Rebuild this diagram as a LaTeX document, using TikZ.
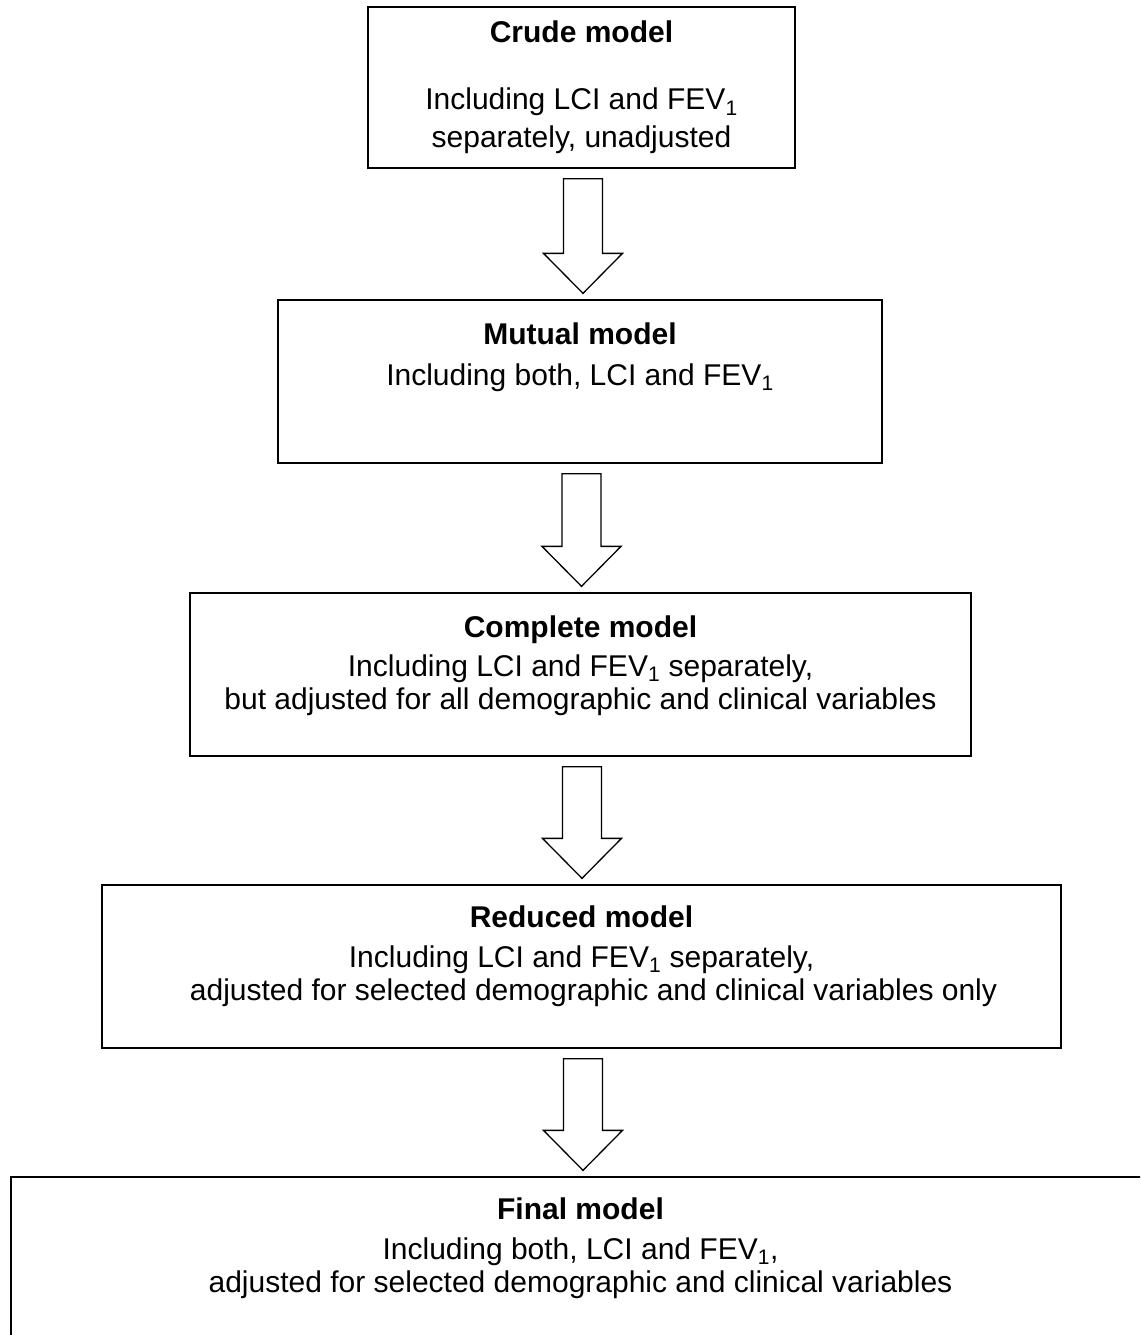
\documentclass[tikz,border=0pt]{standalone}
\usepackage{fontspec}
\setmainfont{Liberation Sans}
\usetikzlibrary{calc}
\tikzset{
  modelbox/.style={draw=black, line width=1.3pt, rectangle, inner sep=0pt, fill=none},
  ttl/.style={anchor=base, inner sep=0pt, font=\fontsize{30}{36}\selectfont\bfseries},
  txt/.style={anchor=base, inner sep=0pt, font=\fontsize{30}{36}\selectfont},
  arrowbox/.style={draw=black, line width=1.3pt, fill=white, line join=miter}
}
\newcommand\blockarrow[2]{%
  \draw[arrowbox] let \p1=($(#1.south)+(1.5,10)$), \p2=($(#2.north)+(0,-6)$) in
    (\x1-19.5pt,\y1) -- (\x1-19.5pt,\y2+40pt) -- (\x1-39.5pt,\y2+40pt) -- (\x1,\y2)
    -- (\x1+39.5pt,\y2+40pt) -- (\x1+19.5pt,\y2+40pt) -- (\x1+19.5pt,\y1) -- cycle;}
\begin{document}
\begin{tikzpicture}[x=1pt,y=-1pt]
\useasboundingbox (0,0) rectangle (1140,1335);
\fill[white] (0,0) rectangle (1140,1335);
\clip (0,0) rectangle (1140,1335);

\node[modelbox, minimum width=427pt, minimum height=161pt] (b1) at (581.5,87.5) {};
\node[modelbox, minimum width=604pt, minimum height=163pt] (b2) at (580,381.5) {};
\node[modelbox, minimum width=781pt, minimum height=163pt] (b3) at (580.5,674.5) {};
\node[modelbox, minimum width=959pt, minimum height=163pt] (b4) at (581.5,966.5) {};
\node[modelbox, minimum width=1139pt, minimum height=168pt] (b5) at (580.5,1261) {};

\node[ttl] (t1) at (581.5,43) {Crude model};
\node[txt] (l1a) at (581.5,110) {Including LCI and FEV\textsubscript{1}};
\node[txt] (l1b) at (581.5,147) {separately, unadjusted};

\node[ttl] (t2) at (580,344) {Mutual model};
\node[txt] (l2a) at (580,385) {Including both, LCI and FEV\textsubscript{1}};

\node[ttl] (t3) at (580.5,637) {Complete model};
\node[txt] (l3a) at (580.5,676) {Including LCI and FEV\textsubscript{1} separately,};
\node[txt] (l3b) at (580.5,709) {but adjusted for all demographic and clinical variables};

\node[ttl] (t4) at (581.5,927) {Reduced model};
\node[txt] (l4a) at (581.5,967) {Including LCI and FEV\textsubscript{1} separately,};
\node[txt] (l4b) at (593.5,1000) {adjusted for selected demographic and clinical variables only};

\node[ttl] (t5) at (580.5,1219) {Final model};
\node[txt] (l5a) at (580.5,1259) {Including both, LCI and FEV\textsubscript{1},};
\node[txt] (l5b) at (580.5,1292) {adjusted for selected demographic and clinical variables};

\blockarrow{b1}{b2}
\blockarrow{b2}{b3}
\blockarrow{b3}{b4}
\blockarrow{b4}{b5}
\end{tikzpicture}
\end{document}
